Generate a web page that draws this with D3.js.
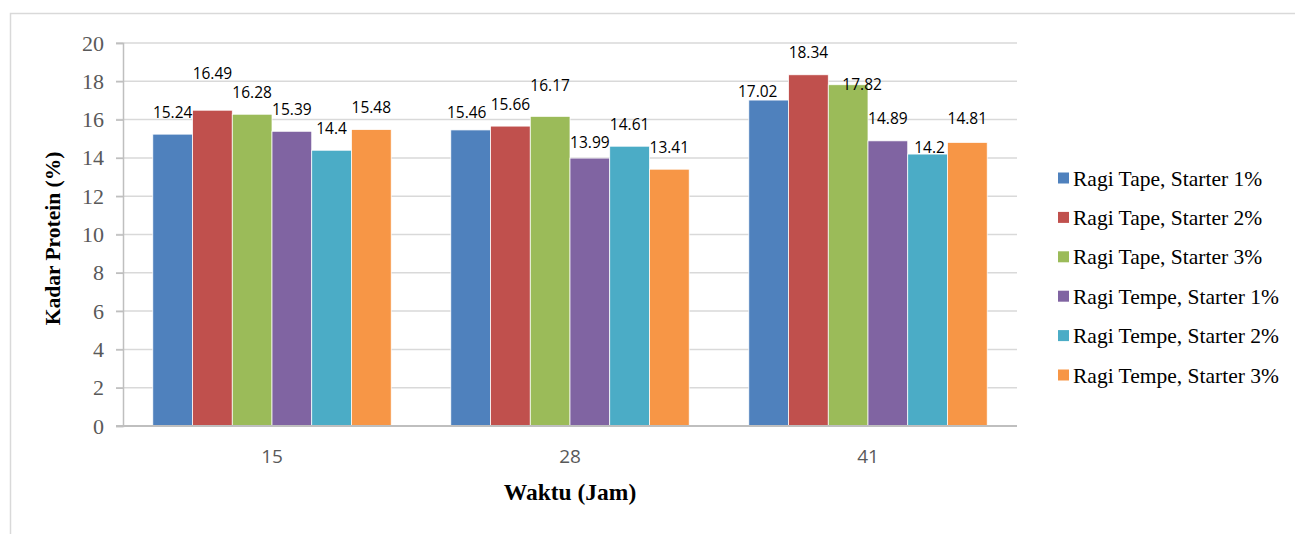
<!DOCTYPE html>
<html>
<head>
<meta charset="utf-8">
<script src="https://cdn.jsdelivr.net/npm/d3@7"></script>
<style>
  body { margin: 0; background: #fff; }
  svg { display: block; }
</style>
</head>
<body>
<div id="chart"></div>
<script>
// chart data
const categories = ['15', '28', '41'];
const seriesNames = [
  'Ragi Tape, Starter 1%',
  'Ragi Tape, Starter 2%',
  'Ragi Tape, Starter 3%',
  'Ragi Tempe, Starter 1%',
  'Ragi Tempe, Starter 2%',
  'Ragi Tempe, Starter 3%'
];
const values = [
  [15.24, 16.49, 16.28, 15.39, 14.4, 15.48],
  [15.46, 15.66, 16.17, 13.99, 14.61, 13.41],
  [17.02, 18.34, 17.82, 14.89, 14.2, 14.81]
];
const yTicks = [0, 2, 4, 6, 8, 10, 12, 14, 16, 18, 20];

const colors = ['#4F81BD', '#C0504D', '#9BBB59', '#8064A2', '#4BACC6', '#F79646'];

// label nudges (Excel moved some labels to avoid overlap) [dx, dy]
const labelNudge = [
  [[0, 0], [0, -15], [0, 0], [0, 0], [0, 0], [0, 0]],
  [[-4, 5], [0, 0], [0, -9], [0, 6], [0, 0], [0, 0]],
  [[-11, 14], [0, 0], [14, 22], [0, 0], [2, 16], [0, -2]]
];

const W = 1295, H = 534;
const margin = { top: 43, right: 278, bottom: 108, left: 123 };
const serif = '"Liberation Serif", "Times New Roman", serif';
const sans = '"Open Sans", "Liberation Sans", sans-serif';

const svg = d3.select('#chart').append('svg')
  .attr('width', W)
  .attr('height', H);

// outer frame
svg.append('rect')
  .attr('x', 10.5).attr('y', 13.5)
  .attr('width', W).attr('height', H)
  .attr('fill', 'none')
  .attr('stroke', '#d9d9d9')
  .attr('stroke-width', 1.5);

const x0 = d3.scaleBand()
  .domain(categories)
  .range([margin.left, W - margin.right])
  .paddingInner(0.2)
  .paddingOuter(0.1);

const x1 = d3.scaleBand()
  .domain(d3.range(seriesNames.length))
  .range([0, x0.bandwidth()]);

const y = d3.scaleLinear()
  .domain([0, 20])
  .range([H - margin.bottom, margin.top]);

// gridlines
svg.append('g')
  .selectAll('line')
  .data(yTicks.filter(d => d > 0))
  .join('line')
  .attr('x1', margin.left - 7)
  .attr('x2', W - margin.right)
  .attr('y1', d => y(d))
  .attr('y2', d => y(d))
  .attr('stroke', '#d9d9d9')
  .attr('stroke-width', 1.5);

// y axis
const yAxis = svg.append('g')
  .attr('transform', `translate(${margin.left},0)`)
  .attr('font-family', serif)
  .call(d3.axisLeft(y).tickValues(yTicks).tickSize(7).tickPadding(12));
yAxis.attr('font-family', serif).attr('font-size', 22);
yAxis.select('.domain').attr('stroke', '#bfbfbf').attr('stroke-width', 1.5);
yAxis.selectAll('.tick line').attr('stroke', '#bfbfbf').attr('stroke-width', 1.5);
yAxis.selectAll('.tick text')
  .attr('fill', '#595959')
  .style('font-family', serif)
  .style('font-size', '22px');

// bars
const groups = svg.append('g')
  .selectAll('g')
  .data(values)
  .join('g')
  .attr('transform', (d, i) => `translate(${x0(categories[i])},0)`);

groups.selectAll('rect')
  .data(d => d)
  .join('rect')
  .attr('x', (d, j) => x1(j))
  .attr('width', x1.bandwidth())
  .attr('y', d => y(d))
  .attr('height', d => y(0) - y(d))
  .attr('fill', (d, j) => colors[j])
  .attr('stroke', '#fff')
  .attr('stroke-width', 0.75);

// data labels
groups.each(function (row, i) {
  d3.select(this).selectAll('text')
    .data(row)
    .join('text')
    .attr('x', (d, j) => x1(j) + x1.bandwidth() / 2 + labelNudge[i][j][0])
    .attr('y', (d, j) => y(d) - 22 + labelNudge[i][j][1])
    .attr('dy', '0.35em')
    .attr('text-anchor', 'middle')
    .attr('fill', '#000')
    .style('font-family', sans)
    .style('font-size', '15.5px')
    .text(d => d);
});

// x axis
svg.append('line')
  .attr('x1', margin.left - 7)
  .attr('x2', W - margin.right)
  .attr('y1', y(0))
  .attr('y2', y(0))
  .attr('stroke', '#bfbfbf')
  .attr('stroke-width', 2);

svg.append('g')
  .selectAll('text')
  .data(categories)
  .join('text')
  .attr('x', d => x0(d) + x0.bandwidth() / 2)
  .attr('y', y(0) + 30)
  .attr('dy', '0.35em')
  .attr('text-anchor', 'middle')
  .attr('fill', '#595959')
  .style('font-family', sans)
  .style('font-size', '19px')
  .text(d => d);

// axis titles
svg.append('text')
  .attr('x', (margin.left + W - margin.right) / 2)
  .attr('y', 492)
  .attr('dy', '0.35em')
  .attr('text-anchor', 'middle')
  .style('font-family', serif)
  .style('font-weight', 'bold')
  .style('font-size', '23.5px')
  .text('Waktu (Jam)');

svg.append('text')
  .attr('transform', `translate(52,${(margin.top + H - margin.bottom) / 2 + 4}) rotate(-90)`)
  .attr('dy', '0.35em')
  .attr('text-anchor', 'middle')
  .style('font-family', serif)
  .style('font-weight', 'bold')
  .style('font-size', '21.5px')
  .text('Kadar Protein (%)');

// legend
const legend = svg.append('g')
  .attr('transform', 'translate(1058,178)');

const legendItem = legend.selectAll('g')
  .data(seriesNames)
  .join('g')
  .attr('transform', (d, i) => `translate(0,${i * 39.4})`);

legendItem.append('rect')
  .attr('x', 0).attr('y', -5.5)
  .attr('width', 11).attr('height', 11)
  .attr('fill', (d, i) => colors[i]);

legendItem.append('text')
  .attr('x', 15)
  .attr('dy', '0.35em')
  .style('font-family', serif)
  .style('font-size', '21.5px')
  .text(d => d);
</script>
</body>
</html>
